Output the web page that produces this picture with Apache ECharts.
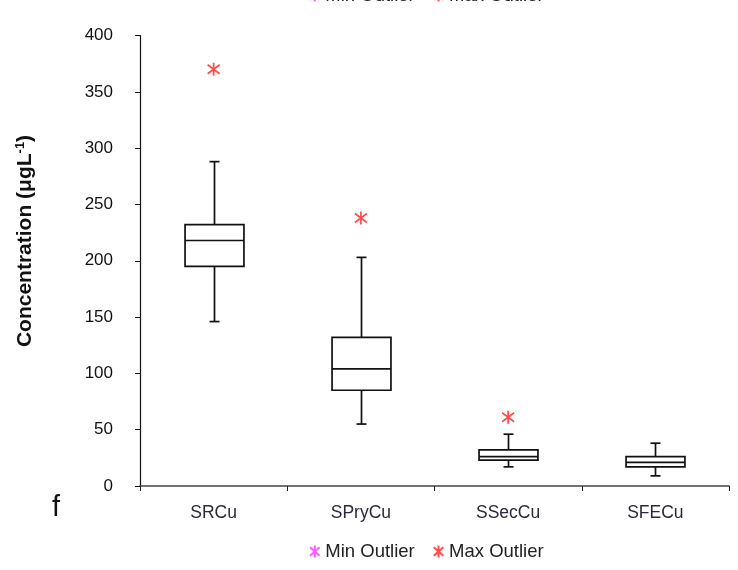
<!DOCTYPE html>
<html>
<head>
<meta charset="utf-8">
<script src="https://cdn.jsdelivr.net/npm/echarts@6/dist/echarts.min.js"></script>
<style>html,body{margin:0;padding:0;background:#fff;}#c{width:738px;height:570px;}</style>
</head>
<body>
<div id="c"></div>
<script>
var categories = ['SRCu', 'SPryCu', 'SSecCu', 'SFECu'];
var lowerWhisker = [146, 55, 17, 9];
var q1 = [195, 85, 23, 17];
var median = [218, 104, 26, 21];
var q3 = [232, 132, 32, 26];
var upperWhisker = [288, 203, 46, 38];
var maxOutliers = [['SRCu', 370], ['SPryCu', 238], ['SSecCu', 61]];
var minOutliers = [];
var yTicks = [0, 50, 100, 150, 200, 250, 300, 350, 400];

var boxData = categories.map(function (c, i) {
  return [i, lowerWhisker[i], q1[i], median[i], q3[i], upperWhisker[i]];
});

var star = 'path://M0,-10L0,10M-8,-7L8,7M-8,7L8,-7';

var chart = echarts.init(document.getElementById('c'), null, {renderer: 'canvas'});
var font = '"Liberation Sans", Arial, sans-serif';

function legendCfg(pos) {
  var l = {
    left: 304,
    itemGap: 18,
    itemWidth: 11,
    itemHeight: 12,
    textStyle: {fontSize: 18.5, color: '#222', fontFamily: font, padding: [0, 0, 0, 0]},
    data: [{name: 'Min Outlier', icon: star}, {name: 'Max Outlier', icon: star}]
  };
  for (var k in pos) l[k] = pos[k];
  return l;
}

chart.setOption({
  animation: false,
  backgroundColor: '#fff',
  textStyle: {fontFamily: font},
  grid: {left: 140, right: 9, top: 35.5, bottom: 84},
  legend: [legendCfg({bottom: 4}), legendCfg({top: -19})],
  xAxis: {
    type: 'category',
    data: categories,
    boundaryGap: true,
    axisLine: {lineStyle: {color: '#444', width: 1.6}},
    axisTick: {show: true, length: 5, inside: false, lineStyle: {color: '#222'}},
    axisLabel: {fontSize: 17.5, color: '#2a2a3a', margin: 18, fontFamily: font},
    splitLine: {show: false}
  },
  yAxis: {
    type: 'value',
    min: 0,
    max: 400,
    interval: 50,
    axisLine: {show: true, lineStyle: {color: '#111', width: 1.2}},
    axisTick: {show: true, length: 5, lineStyle: {color: '#111'}},
    axisLabel: {fontSize: 17, color: '#111', margin: 27, fontFamily: font,
      formatter: function (v) { return yTicks.indexOf(v) >= 0 ? String(v) : ''; }},
    splitLine: {show: false}
  },
  graphic: [{
    type: 'text',
    left: 52,
    top: 493,
    style: {text: 'f', fontSize: 29, fill: '#111', fontFamily: font}
  }, {
    type: 'text',
    x: 25,
    y: 241,
    rotation: Math.PI / 2,
    style: {
      text: '{a|Concentration (μgL}{s|-1}{a|)}',
      align: 'center',
      verticalAlign: 'middle',
      rich: {
        a: {fontSize: 21, fontWeight: 'bold', fill: '#111', fontFamily: font},
        s: {fontSize: 13, fontWeight: 'bold', fill: '#111', fontFamily: font, verticalAlign: 'top', padding: [0, 0, 10, 0]}
      }
    }
  }],
  series: [{
    type: 'custom',
    name: 'box',
    data: boxData,
    renderItem: function (params, api) {
      var idx = api.value(0);
      var pLow = api.coord([idx, api.value(1)]);
      var pQ1 = api.coord([idx, api.value(2)]);
      var pMed = api.coord([idx, api.value(3)]);
      var pQ3 = api.coord([idx, api.value(4)]);
      var pHigh = api.coord([idx, api.value(5)]);
      var bw = api.size([1, 0])[0];
      var half = bw * 0.2;
      var cap = 5;
      var x = Math.round(pMed[0]) + 0.5;
      var st = {stroke: '#111', lineWidth: 1.7, fill: null};
      return {
        type: 'group',
        children: [
          {type: 'line', shape: {x1: x, y1: pHigh[1], x2: x, y2: pQ3[1]}, style: st},
          {type: 'line', shape: {x1: x, y1: pQ1[1], x2: x, y2: pLow[1]}, style: st},
          {type: 'line', shape: {x1: x - cap, y1: pHigh[1], x2: x + cap, y2: pHigh[1]}, style: st},
          {type: 'line', shape: {x1: x - cap, y1: pLow[1], x2: x + cap, y2: pLow[1]}, style: st},
          {type: 'rect', shape: {x: x - half, y: pQ3[1], width: 2 * half, height: pQ1[1] - pQ3[1]}, style: {stroke: '#111', lineWidth: 1.7, fill: '#fff'}},
          {type: 'line', shape: {x1: x - half, y1: pMed[1], x2: x + half, y2: pMed[1]}, style: st}
        ]
      };
    },
    z: 2
  }, {
    type: 'scatter',
    name: 'Min Outlier',
    data: minOutliers,
    symbol: star,
    symbolSize: [12, 13],
    itemStyle: {color: '#ff33ff', borderColor: '#ff33ff', borderWidth: 1.8}
  }, {
    type: 'scatter',
    name: 'Max Outlier',
    data: maxOutliers,
    symbol: star,
    symbolSize: [12, 13],
    itemStyle: {color: '#ff2020', borderColor: '#ff2020', borderWidth: 1.8}
  }]
});
</script>
</body>
</html>
